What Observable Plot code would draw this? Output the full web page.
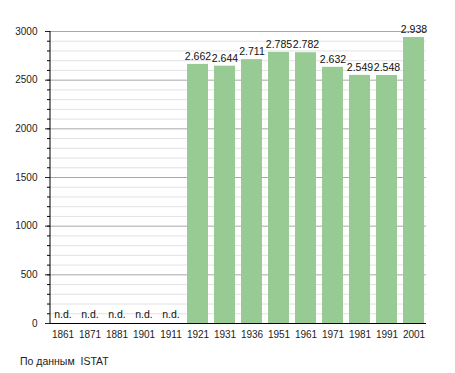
<!DOCTYPE html>
<html>
<head>
<meta charset="utf-8">
<script src="https://cdn.jsdelivr.net/npm/d3@7"></script>
<script src="https://cdn.jsdelivr.net/npm/@observablehq/plot@0.6"></script>
<style>
  body { margin: 0; background: #fff; font-family: "Liberation Sans", Arial, sans-serif; }
  #caption { font-size: 10.5px; color: #222; padding: 10px 0 0 20px; }
</style>
</head>
<body>
<div id="chart"></div>
<div id="caption">По данным&nbsp; ISTAT</div>
<script>
const years = ["1861","1871","1881","1901","1911","1921","1931","1936","1951","1961","1971","1981","1991","2001"];
const population = [null,null,null,null,null,2662,2644,2711,2785,2782,2632,2549,2548,2938];
const majorTicks = [0,500,1000,1500,2000,2500,3000];
const minorTicks = d3.range(0, 3001, 100);

const data = years.map((y, i) => ({year: y, value: population[i]}));
const fmt = v => d3.format(",")(v).replace(/,/g, ".");

const W = 455, H = 345, ML = 50, MR = 29, MT = 31, MB = 22;

const leftLine = (index, scales, values, dims) => {
  const g = d3.create("svg:line")
    .attr("x1", dims.marginLeft).attr("x2", dims.marginLeft)
    .attr("y1", scales.y(3000)).attr("y2", scales.y(0))
    .attr("stroke", "#000");
  return g.node();
};

const chart = Plot.plot({
  width: W, height: H,
  marginLeft: ML, marginRight: MR, marginTop: MT, marginBottom: MB,
  style: {fontFamily: "Liberation Sans, Arial, sans-serif", fontSize: "10px", color: "#222", background: "#fff"},
  x: {domain: years, range: [46, 429.2], paddingInner: 0.23, paddingOuter: 0.115, label: null},
  y: {domain: [0, 3000], label: null},
  marks: [
    Plot.ruleY(minorTicks.filter(d => d % 500 !== 0), {stroke: "#e2e2e2", strokeWidth: 1}),
    Plot.ruleY(majorTicks, {stroke: "#a8a8a8", strokeWidth: 1}),
    Plot.barY(data.filter(d => d.value != null), {x: "year", y: "value", fill: "#97cb93"}),
    Plot.text(data.filter(d => d.value != null), {x: "year", y: "value", text: d => fmt(d.value), dy: -8, fill: "#111", fontSize: 10.5}),
    Plot.text(data.filter(d => d.value == null), {x: "year", y: 0, text: () => "n.d.", dy: -9, fill: "#111", fontSize: 10.5}),
    Plot.axisY(minorTicks, {tickSize: 3, tickFormat: () => "", stroke: "#000"}),
    Plot.axisY(majorTicks, {tickSize: 5, tickPadding: 8, tickFormat: d => String(d), fill: "#222"}),
    Plot.axisX({tickSize: 0, tickPadding: 7, fill: "#222"}),
    Plot.ruleY([0], {stroke: "#000"}),
    leftLine
  ]
});
document.getElementById("chart").appendChild(chart);
</script>
</body>
</html>
